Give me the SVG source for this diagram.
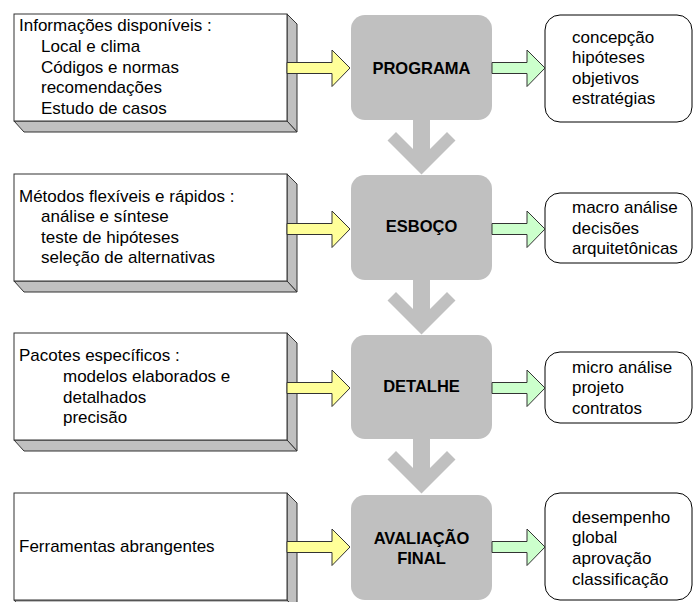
<svg xmlns="http://www.w3.org/2000/svg" width="693" height="602" viewBox="0 0 693 602">
<style>
text{font-family:"Liberation Sans",Arial,sans-serif;font-size:17px;fill:#000}
.b{font-weight:bold;text-anchor:middle;font-size:16.5px}
.face{fill:#fff;stroke:#333;stroke-width:1}
.bev{fill:#c0c0c0;stroke:#333;stroke-width:1;stroke-linejoin:round}
.stage{fill:#c0c0c0}
.out{fill:#fff;stroke:#000;stroke-width:1}
.ya{fill:#ffff99;stroke:#333;stroke-width:1}
.ga{fill:#ccffcc;stroke:#333;stroke-width:1}
.da{fill:#c0c0c0}
</style>
<defs>
<polygon id="yarrow" class="ya" points="287,-5.5 332,-5.5 332,-18 350,0 332,18.5 332,5.5 287,5.5"/>
<polygon id="garrow" class="ga" points="492,-5.5 527,-5.5 527,-18 545,0 527,18.5 527,5.5 492,5.5"/>
<polygon id="darrow" class="da" points="-8.5,0 8.5,0 8.5,29 25.5,12 34,20.5 0,54.5 -34,20.5 -25.5,12 -8.5,29"/>
</defs>

<g id="input1">
<polygon class="bev" points="287,14 297,24 297,132 287,121"/>
<polygon class="bev" points="14,121 287,121 297,132 24,132"/>
<rect class="face" x="14" y="14" width="273" height="107"/>
<text x="19" y="31">Informações disponíveis :</text>
<text x="41" y="52">Local e clima</text>
<text x="41" y="73">Códigos e normas</text>
<text x="41" y="93">recomendações</text>
<text x="41" y="114">Estudo de casos</text>
</g>
<g id="input2">
<polygon class="bev" points="287,174 297,184 297,292 287,281"/>
<polygon class="bev" points="14,281 287,281 297,292 24,292"/>
<rect class="face" x="14" y="174" width="273" height="107"/>
<text x="19" y="202">Métodos flexíveis e rápidos :</text>
<text x="41" y="222">análise e síntese</text>
<text x="41" y="243">teste de hipóteses</text>
<text x="41" y="263">seleção de alternativas</text>
</g>
<g id="input3">
<polygon class="bev" points="287,333 297,343 297,451 287,440"/>
<polygon class="bev" points="14,440 287,440 297,451 24,451"/>
<rect class="face" x="14" y="333" width="273" height="107"/>
<text x="19" y="361">Pacotes específicos :</text>
<text x="63" y="382">modelos elaborados e</text>
<text x="63" y="403">detalhados</text>
<text x="63" y="423">precisão</text>
</g>
<g id="input4">
<polygon class="bev" points="287,493 297,503 297,611 287,600"/>
<polygon class="bev" points="14,600 287,600 297,611 24,611"/>
<rect class="face" x="14" y="493" width="273" height="107"/>
<text x="19" y="552">Ferramentas abrangentes</text>
</g>

<g id="programa">
<rect class="stage" x="351" y="15" width="141" height="105" rx="14"/>
<text class="b" x="421.5" y="74">PROGRAMA</text>
</g>
<g id="esboco">
<rect class="stage" x="351" y="175" width="141" height="105" rx="14"/>
<text class="b" x="421.5" y="232">ESBOÇO</text>
</g>
<g id="detalhe">
<rect class="stage" x="351" y="335" width="141" height="104" rx="14"/>
<text class="b" x="421.5" y="392">DETALHE</text>
</g>
<g id="avaliacao">
<rect class="stage" x="351" y="495" width="141" height="105" rx="14"/>
<text class="b" x="421.5" y="544">AVALIAÇÃO</text>
<text class="b" x="421.5" y="564">FINAL</text>
</g>

<g id="output1">
<rect class="out" x="545" y="15" width="147" height="107" rx="15"/>
<text x="572" y="43">concepção</text>
<text x="572" y="63">hipóteses</text>
<text x="572" y="84">objetivos</text>
<text x="572" y="104">estratégias</text>
</g>
<g id="output2">
<rect class="out" x="545" y="193" width="147" height="70" rx="15"/>
<text x="572" y="213">macro análise</text>
<text x="572" y="234">decisões</text>
<text x="572" y="254">arquitetônicas</text>
</g>
<g id="output3">
<rect class="out" x="545" y="352" width="147" height="71" rx="15"/>
<text x="572" y="373">micro análise</text>
<text x="572" y="393">projeto</text>
<text x="572" y="414">contratos</text>
</g>
<g id="output4">
<rect class="out" x="545" y="493" width="147" height="107" rx="15"/>
<text x="572" y="523">desempenho</text>
<text x="572" y="543">global</text>
<text x="572" y="564">aprovação</text>
<text x="572" y="585">classificação</text>
</g>

<g id="connectors">
<use href="#yarrow" transform="translate(0,68)"/>
<use href="#yarrow" transform="translate(0,229)"/>
<use href="#yarrow" transform="translate(0,388)"/>
<use href="#yarrow" transform="translate(0,547)"/>
<use href="#garrow" transform="translate(0,68)"/>
<use href="#garrow" transform="translate(0,229)"/>
<use href="#garrow" transform="translate(0,388)"/>
<use href="#garrow" transform="translate(0,547)"/>
<use href="#darrow" transform="translate(421.5,120)"/>
<use href="#darrow" transform="translate(421.5,280)"/>
<use href="#darrow" transform="translate(421.5,439)"/>
</g>
</svg>
